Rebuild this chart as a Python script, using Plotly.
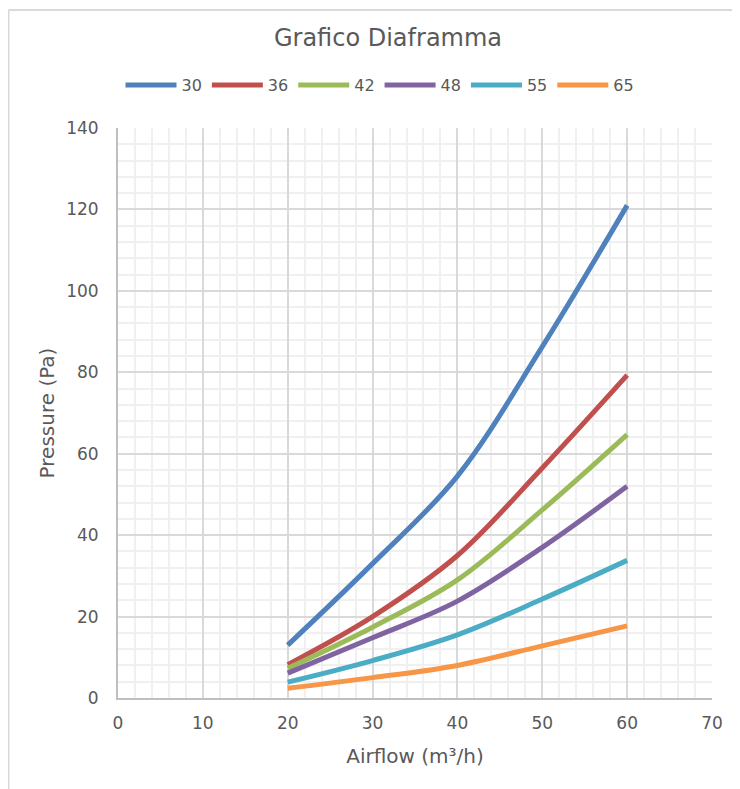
import plotly.graph_objects as go

airflow = [20, 30, 40, 50, 60]
series_names = ["30", "36", "42", "48", "55", "65"]
p30 = [13.0, 33.0, 54.5, 86.3, 121.0]
p36 = [8.2, 20.0, 35.0, 56.5, 79.3]
p42 = [7.3, 17.4, 29.0, 46.2, 64.7]
p48 = [6.1, 14.8, 23.8, 37.0, 52.0]
p55 = [3.9, 9.2, 15.5, 24.3, 33.8]
p65 = [2.4, 5.0, 8.0, 12.8, 17.7]
colors = ["#4F81BD", "#C0504D", "#9BBB59", "#8064A2", "#4BACC6", "#F79646"]

x_ticks = [0, 10, 20, 30, 40, 50, 60, 70]
y_ticks = [0, 20, 40, 60, 80, 100, 120, 140]

FONT = "DejaVu Sans"
TXT = "#595959"

fig = go.Figure()
for name, vals, col in zip(series_names, [p30, p36, p42, p48, p55, p65], colors):
    fig.add_trace(go.Scatter(
        x=airflow, y=vals, name=name, mode="lines",
        line=dict(color=col, width=5, shape="spline", smoothing=1),
    ))

# page has an 8px body margin; work in figure pixel coords
OFF = 8
W, H = 740 - OFF, 789 - OFF
L, R, T, B = 118 - OFF, 712 - OFF, 128 - OFF, 698 - OFF
def px(x):
    return (x - OFF - L) / (R - L)
def py(y):
    return (B - (y - OFF)) / (B - T)

fig.update_layout(
    width=W, height=H,
    margin=dict(l=L, r=W - R, t=T, b=H - B),
    paper_bgcolor="white", plot_bgcolor="white",
    font=dict(family=FONT, color=TXT, size=15),
    title=dict(text="Grafico Diaframma", x=(388 - OFF) / W, xanchor="center",
               y=1 - (38 - OFF) / H, yanchor="middle",
               font=dict(size=24, color=TXT, family=FONT)),
    legend=dict(orientation="h", x=px(380), xanchor="center",
                y=py(85), yanchor="middle",
                font=dict(size=16, color=TXT), itemwidth=51,
                tracegroupgap=0, traceorder="normal"),
    showlegend=True,
    xaxis=dict(range=[0, 70], tickvals=x_ticks, ticktext=[str(v) for v in x_ticks],
               showgrid=True, gridcolor="#d9d9d9", gridwidth=1.5,
               minor=dict(dtick=2, showgrid=True, gridcolor="#f0f0f0", gridwidth=1.5),
               showline=True, linecolor="#bfbfbf", linewidth=2,
               zeroline=False, ticks="", tickfont=dict(size=17, color=TXT),
               ticklabelstandoff=9,
               title=dict(text="Airflow (m³/h)", font=dict(size=20, color=TXT), standoff=17),
               mirror=False),
    yaxis=dict(range=[0, 140], tickvals=y_ticks, ticktext=[str(v) for v in y_ticks],
               showgrid=True, gridcolor="#d9d9d9", gridwidth=1.5,
               minor=dict(dtick=4, showgrid=True, gridcolor="#f0f0f0", gridwidth=1.5),
               showline=True, linecolor="#bfbfbf", linewidth=2,
               zeroline=False, ticks="", tickfont=dict(size=17, color=TXT),
               ticklabelstandoff=14,
               title=dict(text="Pressure (Pa)", font=dict(size=20, color=TXT), standoff=6)),
    shapes=[
        dict(type="line", xref="paper", yref="paper",
             x0=px(8.5), x1=px(8.5), y0=py(800), y1=py(10),
             line=dict(color="#d9d9d9", width=2)),
        dict(type="line", xref="paper", yref="paper",
             x0=px(8.5), x1=px(760), y0=py(10), y1=py(10),
             line=dict(color="#d9d9d9", width=2)),
    ],
)

fig.write_html("out.html")
